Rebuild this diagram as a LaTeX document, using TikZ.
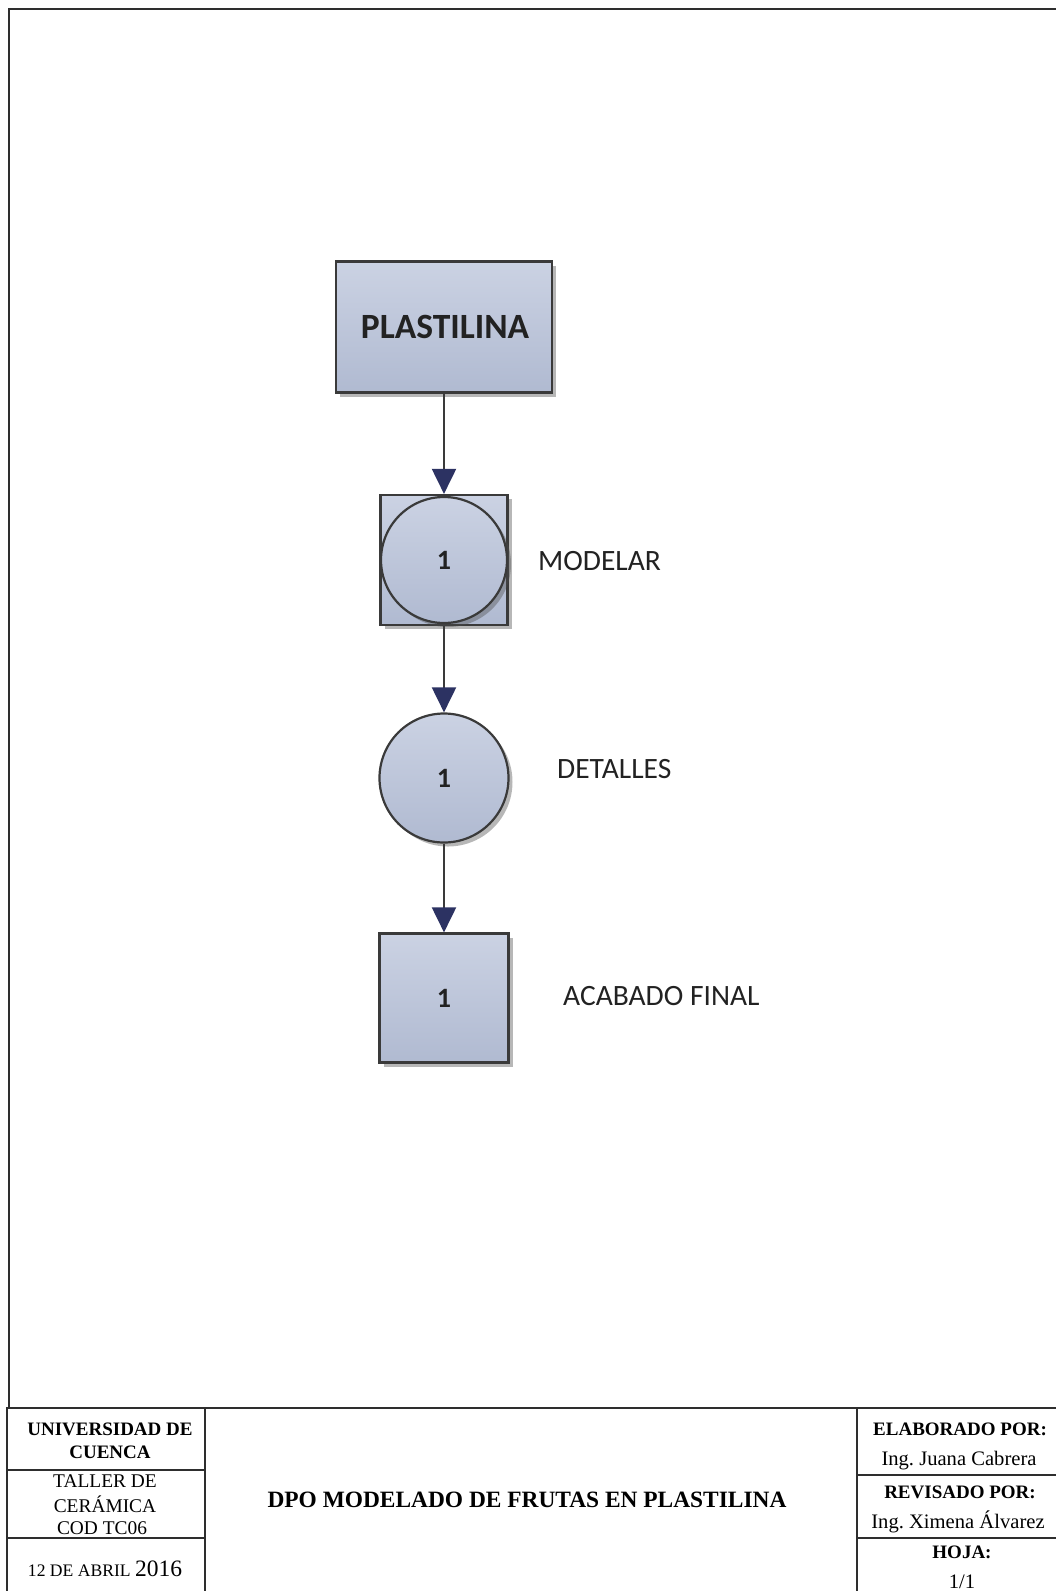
\documentclass[tikz,border=0pt]{standalone}
\usepackage{fontspec}
\setmainfont{Liberation Serif}
\newfontfamily\calib{Carlito}
\usetikzlibrary{shadows,arrows.meta}
\frenchspacing

\definecolor{edgec}{HTML}{3A3A3A}
\definecolor{headc}{HTML}{2C3262}
\definecolor{filltop}{HTML}{CBD2E3}
\definecolor{fillbot}{HTML}{B0BAD1}
\definecolor{labc}{HTML}{222222}
\definecolor{framec}{HTML}{2E2E2E}

\tikzset{
  procshape/.style={draw=edgec, line width=2.2pt, top color=filltop, bottom color=fillbot,
    drop shadow={shadow xshift=4pt, shadow yshift=-4pt, opacity=0.4, fill=black!70},
    inner sep=0pt, text=labc},
  sqbox/.style={procshape, rectangle},
  circbox/.style={procshape, circle},
  conn/.style={draw=edgec, line width=2pt, -{Triangle[length=25pt,width=24pt,color=headc]}},
  steplabel/.style={anchor=base west, inner sep=0pt, text=labc, font=\calib\fontsize{29.5}{34}\selectfont},
  numtxt/.style={font=\calib\bfseries\fontsize{28}{32}\selectfont},
  rule/.style={draw=framec, line width=2pt},
  celltxt/.style={anchor=base, inner sep=0pt, text=black},
  cellbold/.style={celltxt, font=\bfseries\fontsize{19}{22}\selectfont},
  cellreg/.style={celltxt, font=\fontsize{20.6}{24}\selectfont},
}

\begin{document}
\begin{tikzpicture}[x=1pt,y=-1pt]
  \useasboundingbox (0,0) rectangle (1056,1591);

  % sheet frame
  \draw[rule] (9,1408) -- (9,9) -- (1056,9);

  % process chart
  \node[sqbox, minimum width=216pt, minimum height=131pt] (plast) at (444,327) {};
  \node[anchor=base, inner sep=0pt, text=labc, font=\calib\bfseries\fontsize{35.5}{40}\selectfont] (plasttxt) at (445,338) {PLASTILINA};

  \node[sqbox, minimum width=127pt, minimum height=130pt] (modsq) at (444,560) {};
  \node[circbox, minimum size=126pt, numtxt] (modci) at (444,560) {1};
  \node[steplabel] (modlab) at (538,570) {MODELAR};

  \node[circbox, minimum size=129pt, numtxt] (det) at (444,778) {1};
  \node[steplabel] (detlab) at (557,778) {DETALLES};

  \node[sqbox, minimum width=129pt, minimum height=129pt, numtxt] (fin) at (444,998) {1};
  \node[steplabel] (finlab) at (563,1005) {ACABADO FINAL};

  \draw[conn] (plast.south) -- (modsq.north);
  \draw[conn] (modsq.south) -- (det.north);
  \draw[conn] (det.south) -- (fin.north);

  % title block
  \draw[rule] (7,1591) -- (7,1408) -- (1056,1408);
  \draw[rule] (205,1408) -- (205,1591);
  \draw[rule] (857,1408) -- (857,1591);
  \draw[rule] (7,1470) -- (205,1470);
  \draw[rule] (7,1538) -- (205,1538);
  \draw[rule] (857,1475) -- (1056,1475);
  \draw[rule] (857,1538) -- (1056,1538);

  \node[cellbold] (uni1) at (110,1435) {UNIVERSIDAD DE};
  \node[cellbold] (uni2) at (110,1458) {CUENCA};
  \node[celltxt, font=\fontsize{19.4}{23}\selectfont] (tal1) at (105,1487) {TALLER DE};
  \node[celltxt, font=\fontsize{19.4}{23}\selectfont] (tal2) at (105,1512) {CERÁMICA};
  \node[celltxt, font=\fontsize{19.4}{23}\selectfont] (tal3) at (102,1534) {COD TC06};
  \node[celltxt] (fecha) at (105,1576) {\fontsize{17.6}{21}\selectfont 12 DE ABRIL \fontsize{23.5}{27}\selectfont 2016};

  \node[celltxt, font=\bfseries\fontsize{23.4}{27}\selectfont] (titulo) at (527,1507) {DPO MODELADO DE FRUTAS EN PLASTILINA};

  \node[cellbold] (elab) at (960,1435) {ELABORADO POR:};
  \node[cellreg] (elabn) at (959,1465) {Ing. Juana Cabrera};
  \node[cellbold] (rev) at (960,1498) {REVISADO POR:};
  \node[cellreg] (revn) at (958,1528) {Ing. Ximena Álvarez};
  \node[cellbold] (hoja) at (962,1558) {HOJA:};
  \node[cellreg] (hojan) at (962,1588) {1/1};
\end{tikzpicture}
\end{document}
